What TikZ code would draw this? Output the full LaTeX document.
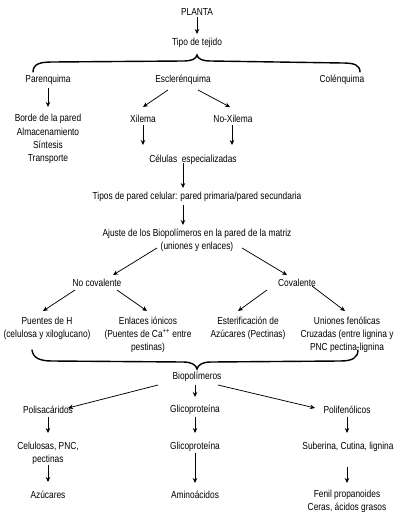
\documentclass[tikz,border=0pt]{standalone}
\usepackage{fontspec}
\setmainfont{Liberation Sans}[FakeStretch=0.82]
\usetikzlibrary{arrows.meta,calc}
\begin{document}
\begin{tikzpicture}[x=1pt,y=-1pt,
  lbl/.style={inner sep=1pt,align=center,font=\fontsize{10.2}{13.2}\selectfont},
  arr/.style={line width=0.75pt,-{Stealth[length=5pt,width=4.5pt]}},
  brc/.style={line width=1.4pt,line cap=round}]
\useasboundingbox[fill=white] (0,0) rectangle (400,515);
% nodes
\node[lbl] (planta) at (197,12) {PLANTA};
\node[lbl] (tipo) at (197,43) {Tipo de tejido};
\node[lbl] (par) at (48,80) {Parenquima};
\node[lbl] (escl) at (183,80) {Escler\'enquima};
\node[lbl] (col) at (342,80) {Col\'enquima};
\node[lbl] (borde) at (48,139) {Borde de la pared\\Almacenamiento\\S\'intesis\\Transporte};
\node[lbl] (xil) at (143,119) {Xilema};
\node[lbl] (noxil) at (233,119) {No-Xilema};
\node[lbl] (cel) at (193,160) {C\'elulas\ \ especializadas};
\node[lbl] (tipos) at (197,197) {Tipos de pared celular: pared primaria/pared secundaria};
\node[lbl] (aj) at (197,240.5) {Ajuste de los Biopol\'imeros en la pared de la matriz\\(uniones y enlaces)};
\node[lbl] (nocov) at (97,283) {No covalente};
\node[lbl] (cov) at (297,283) {Covalente};
\node[lbl] (puentes) at (47,328.5) {Puentes de H\\(celulosa y xiloglucano)};
\node[lbl] (enlaces) at (148,334.5) {Enlaces i\'onicos\\(Puentes de Ca\textsuperscript{++} entre\\pestinas)};
\node[lbl] (ester) at (248,328.5) {Esterificaci\'on de\\Az\'ucares (Pectinas)};
\node[lbl] (uniones) at (347,334.5) {Uniones fen\'olicas\\Cruzadas (entre lignina y\\PNC pectina-lignina};
\node[lbl] (bio) at (197,377) {Biopol\'imeros};
\node[lbl] (poli) at (48,410) {Polisac\'aridos};
\node[lbl] (gli) at (195,410) {Glicoprote\'ina};
\node[lbl] (polif) at (347,410) {Polifen\'olicos};
\node[lbl] (celul) at (48,453) {Celulosas, PNC,\\pectinas};
\node[lbl] (gli2) at (195,447) {Glicoprote\'ina};
\node[lbl] (suber) at (348,447) {Suberina, Cutina, lignina};
\node[lbl] (azu) at (48,495) {Az\'ucares};
\node[lbl] (amino) at (195,495) {Amino\'acidos};
\node[lbl] (fenil) at (347,501) {Fenil propanoides\\Ceras, \'acidos grasos};
% braces
\draw[brc] (33,72) .. controls (33,64) and (40,62) .. (52,62) -- (183,61)
  .. controls (192,61) and (196,59) .. (197,55)
  .. controls (198,59) and (202,61) .. (211,61) -- (343,63)
  .. controls (354,63) and (360,65) .. (360,72);
\draw[brc] (32,350) .. controls (33,358) and (40,361) .. (52,361) -- (183,362)
  .. controls (192,362) and (196,365) .. (197,369)
  .. controls (198,365) and (202,362) .. (211,362) -- (340,361)
  .. controls (352,361) and (358,358) .. (358,350);
% arrows
\draw[arr] ($(planta)+(0,5)$) -- ($(tipo)+(0,-9)$);
\draw[arr] ($(par)+(0,8)$) -- ($(borde)+(0,-32)$);
\draw[arr] ($(escl)+(-15,10)$) -- ($(xil)+(0,-12)$);
\draw[arr] ($(escl)+(15,10)$) -- ($(noxil)+(-3,-12)$);
\draw[arr] ($(xil)+(0,6)$) -- ($(cel)+(-50,-15)$);
\draw[arr] ($(noxil)+(-1,6)$) -- ($(cel)+(39,-15)$);
\draw[arr] ($(cel)+(-10,3)$) -- ($(tipos)+(-14,-9)$);
\draw[arr] ($(tipos)+(-14,8)$) -- ($(aj)+(-14,-15.5)$);
\draw[arr] ($(aj)+(-40,7.5)$) -- ($(nocov)+(16,-8)$);
\draw[arr] ($(aj)+(45,7.5)$) -- ($(cov)+(-10,-8)$);
\draw[arr] ($(nocov)+(-22,7)$) -- ($(puentes)+(-4,-17.5)$);
\draw[arr] ($(nocov)+(20,7)$) -- ($(enlaces)+(-1,-23.5)$);
\draw[arr] ($(cov)+(-30,7)$) -- ($(ester)+(-10,-17.5)$);
\draw[arr] ($(cov)+(15,3)$) -- ($(uniones)+(-2,-23.5)$);
\draw[arr] ($(bio)+(-39,8)$) -- ($(poli)+(20,-2)$);
\draw[arr] ($(bio)+(-2,8)$) -- ($(gli)+(0,-13)$);
\draw[arr] ($(bio)+(21,8)$) -- ($(polif)+(-32,-2)$);
\draw[arr] ($(poli)+(0,7)$) -- ($(celul)+(0,-20)$);
\draw[arr] ($(gli)+(0,7)$) -- ($(gli2)+(0,-14)$);
\draw[arr] ($(polif)+(0,7)$) -- ($(suber)+(-1,-14)$);
\draw[arr] ($(celul)+(0,12)$) -- ($(azu)+(0,-13)$);
\draw[arr] ($(gli2)+(0,6)$) -- ($(amino)+(0,-12)$);
\draw[arr] ($(suber)+(-1,20)$) -- ($(fenil)+(0,-18)$);
\end{tikzpicture}
\end{document}
